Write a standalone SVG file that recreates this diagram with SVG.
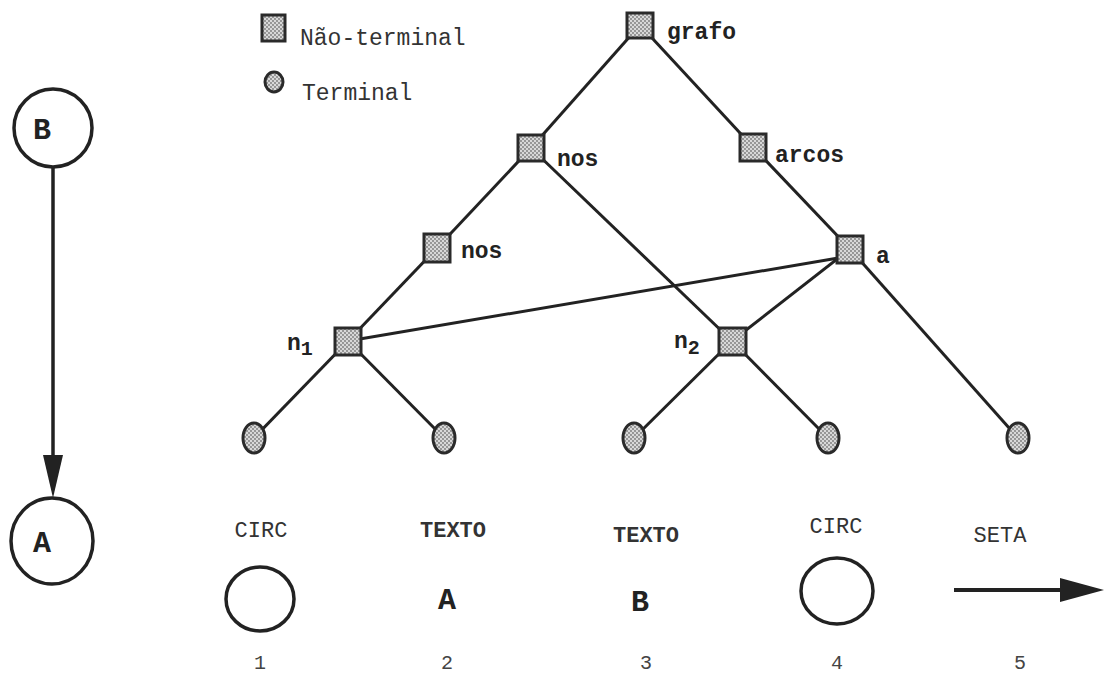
<svg xmlns="http://www.w3.org/2000/svg" width="1104" height="675" viewBox="0 0 1104 675">
<defs>
<pattern id="dots" width="4" height="4" patternUnits="userSpaceOnUse">
<rect width="4" height="4" fill="#d8d8d8"/>
<circle cx="1" cy="1" r="0.9" fill="#777"/>
<circle cx="3" cy="3" r="0.9" fill="#777"/>
</pattern>
</defs>
<style>
.edge{stroke:#222;stroke-width:3;fill:none}
.nt{fill:url(#dots);stroke:#2a2a2a;stroke-width:3}
.t{fill:url(#dots);stroke:#2a2a2a;stroke-width:3}
.lbl{font-family:"Liberation Mono",monospace;font-weight:bold;font-size:23px;fill:#222}
.leg{font-family:"Liberation Mono",monospace;font-size:23px;fill:#333}
.cap{font-family:"Liberation Mono",monospace;font-size:22px;fill:#333}
.num{font-family:"Liberation Mono",monospace;font-size:20px;fill:#444}
.big{font-family:"Liberation Mono",monospace;font-weight:bold;font-size:30px;fill:#222}
.ring{fill:#fff;stroke:#222;stroke-width:3.5}
</style>
<rect width="1104" height="675" fill="#fff"/>

<g id="legend">
<rect class="nt" x="262" y="15" width="23" height="26"/>
<text class="leg" x="300" y="45">Não-terminal</text>
<ellipse class="t" cx="274" cy="82" rx="9" ry="10"/>
<text class="leg" x="302" y="100">Terminal</text>
</g>

<g id="connectors">
<line class="edge" x1="640" y1="25" x2="531" y2="148"/>
<line class="edge" x1="640" y1="25" x2="753" y2="147"/>
<line class="edge" x1="531" y1="148" x2="437" y2="248"/>
<line class="edge" x1="531" y1="148" x2="732" y2="341"/>
<line class="edge" x1="753" y1="147" x2="850" y2="249"/>
<line class="edge" x1="850" y1="249" x2="732" y2="341"/>
<line class="edge" x1="850" y1="249" x2="1018" y2="438"/>
<line class="edge" x1="850" y1="256" x2="348" y2="341"/>
<line class="edge" x1="437" y1="248" x2="348" y2="341"/>
<line class="edge" x1="348" y1="341" x2="254" y2="438"/>
<line class="edge" x1="348" y1="341" x2="444" y2="438"/>
<line class="edge" x1="732" y1="341" x2="634" y2="438"/>
<line class="edge" x1="732" y1="341" x2="828" y2="438"/>
</g>

<g id="node-grafo">
<rect class="nt" x="627" y="13" width="26" height="25"/>
<text class="lbl" x="667" y="39">grafo</text>
</g>
<g id="node-nos1">
<rect class="nt" x="518" y="135" width="26" height="26"/>
<text class="lbl" x="557" y="166">nos</text>
</g>
<g id="node-arcos">
<rect class="nt" x="740" y="134" width="26" height="27"/>
<text class="lbl" x="775" y="162">arcos</text>
</g>
<g id="node-nos2">
<rect class="nt" x="424" y="234" width="26" height="28"/>
<text class="lbl" x="461" y="258">nos</text>
</g>
<g id="node-a">
<rect class="nt" x="837" y="236" width="26" height="27"/>
<text class="lbl" x="876" y="263">a</text>
</g>
<g id="node-n1">
<rect class="nt" x="335" y="328" width="26" height="27"/>
<text class="lbl" x="287" y="350">n<tspan font-size="20" dy="5">1</tspan></text>
</g>
<g id="node-n2">
<rect class="nt" x="719" y="328" width="27" height="27"/>
<text class="lbl" x="674" y="348">n<tspan font-size="20" dy="6">2</tspan></text>
</g>

<g id="term-1"><ellipse class="t" cx="254" cy="438" rx="11" ry="15"/></g>
<g id="term-2"><ellipse class="t" cx="444" cy="438" rx="11" ry="15"/></g>
<g id="term-3"><ellipse class="t" cx="634" cy="438" rx="11" ry="15"/></g>
<g id="term-4"><ellipse class="t" cx="828" cy="438" rx="11" ry="15"/></g>
<g id="term-5"><ellipse class="t" cx="1018" cy="438" rx="11" ry="15"/></g>

<g id="left-graph">
<g id="node-B">
<circle class="ring" cx="53" cy="128" r="39"/>
<text class="big" x="42" y="139" text-anchor="middle">B</text>
</g>
<g id="node-A">
<ellipse class="ring" cx="52" cy="541" rx="41" ry="43"/>
<text class="big" x="42" y="552" text-anchor="middle">A</text>
</g>
<g id="edge-BA">
<line x1="53" y1="168" x2="53" y2="456" stroke="#222" stroke-width="3.5"/>
<polygon points="43,455 63,455 53,498" fill="#222"/>
</g>
</g>

<g id="item-1">
<text class="cap" x="261" y="537" text-anchor="middle">CIRC</text>
<ellipse cx="260" cy="599" rx="34" ry="32" fill="none" stroke="#222" stroke-width="3.5"/>
<text class="num" x="260" y="669" text-anchor="middle">1</text>
</g>
<g id="item-2">
<text class="cap" x="453" y="537" text-anchor="middle" font-weight="bold">TEXTO</text>
<text class="big" x="447" y="609" text-anchor="middle">A</text>
<text class="num" x="447" y="669" text-anchor="middle">2</text>
</g>
<g id="item-3">
<text class="cap" x="646" y="542" text-anchor="middle" font-weight="bold">TEXTO</text>
<text class="big" x="640" y="611" text-anchor="middle">B</text>
<text class="num" x="646" y="669" text-anchor="middle">3</text>
</g>
<g id="item-4">
<text class="cap" x="836" y="533" text-anchor="middle">CIRC</text>
<ellipse cx="837" cy="591" rx="36" ry="33" fill="none" stroke="#222" stroke-width="3.5"/>
<text class="num" x="837" y="669" text-anchor="middle">4</text>
</g>
<g id="item-5">
<text class="cap" x="1000" y="542" text-anchor="middle">SETA</text>
<line x1="954" y1="590" x2="1062" y2="590" stroke="#222" stroke-width="4"/>
<polygon points="1060,578 1104,590 1060,602" fill="#222"/>
<text class="num" x="1020" y="669" text-anchor="middle">5</text>
</g>
</svg>
